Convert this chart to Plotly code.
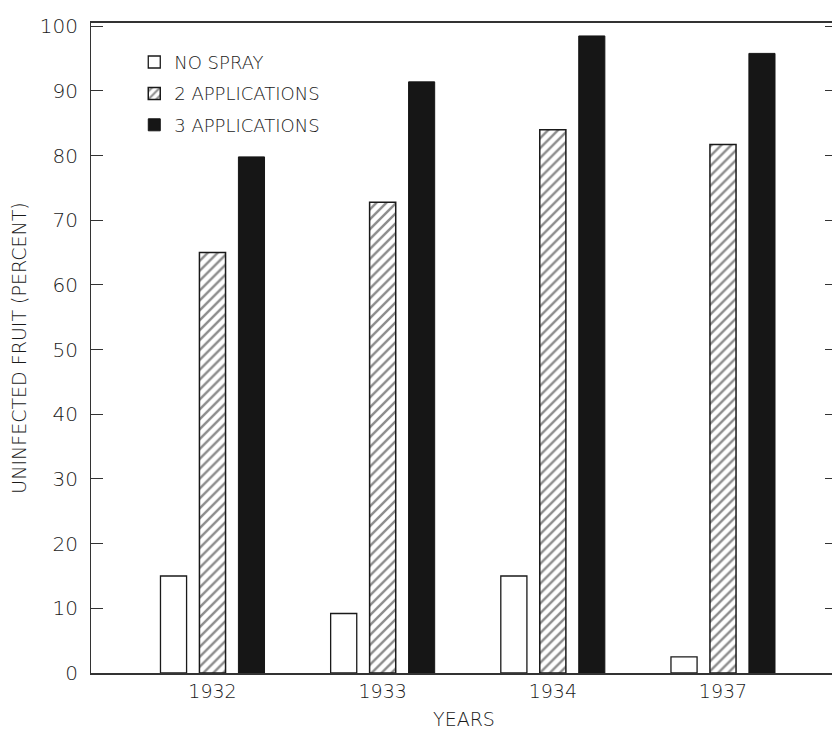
import plotly.graph_objects as go

years = ["1932", "1933", "1934", "1937"]
no_spray = [15.0, 9.2, 15.0, 2.5]
two_apps = [65.0, 72.8, 84.0, 81.7]
three_apps = [79.8, 91.4, 98.5, 95.8]
y_ticks = list(range(0, 101, 10))

FONT = "DejaVu Sans"
W = 200
ink = "#1a1a1a"

fig = go.Figure()
fig.add_trace(go.Bar(
    x=years, y=no_spray, name="NO SPRAY", legendgroup="a",
    marker=dict(color="white", line=dict(color=ink, width=1.3)),
))
fig.add_trace(go.Bar(
    x=years, y=two_apps, name="2 APPLICATIONS", legendgroup="b",
    marker=dict(color="white", line=dict(color=ink, width=1.5),
                pattern=dict(shape="/", fgcolor=ink, bgcolor="white",
                             size=7, solidity=0.35, fillmode="overlay")),
))
fig.add_trace(go.Bar(
    x=years, y=three_apps, name="3 APPLICATIONS", legendgroup="c",
    marker=dict(color="#161616", line=dict(color="#161616", width=1)),
))

fig.update_layout(
    width=832, height=725,
    margin=dict(l=83, r=3, t=15, b=60),
    paper_bgcolor="white", plot_bgcolor="white",
    barmode="group", bargap=0.313, bargroupgap=0.33,
    font=dict(family=FONT, size=18, color=ink, weight=W),
    showlegend=True,
    legend=dict(x=0.058, y=0.968, xanchor="left", yanchor="top",
                bgcolor="rgba(0,0,0,0)", font=dict(size=18, family=FONT, weight=W),
                tracegroupgap=5, itemwidth=30),
)
fig.update_xaxes(
    type="category", range=[-0.714, 3.67],
    showline=True, linecolor="#333", linewidth=1.5, mirror=True,
    ticks="", showgrid=False,
    tickfont=dict(size=19, family=FONT, weight=W),
    title=dict(text="YEARS", font=dict(size=19, family=FONT, weight=W), standoff=12),
)
fig.update_yaxes(
    range=[0, 100.5], tickvals=y_ticks,
    showline=True, linecolor="#333", linewidth=1.2, mirror="ticks",
    ticks="inside", ticklen=12, tickcolor="#333", tickwidth=1.2,
    showgrid=False, zeroline=False,
    ticklabelstandoff=8,
    tickfont=dict(size=20, family=FONT, weight=W),
    title=dict(text="UNINFECTED FRUIT (PERCENT)", font=dict(size=19, family=FONT, weight=W), standoff=14),
)

fig.write_html("out.html")
